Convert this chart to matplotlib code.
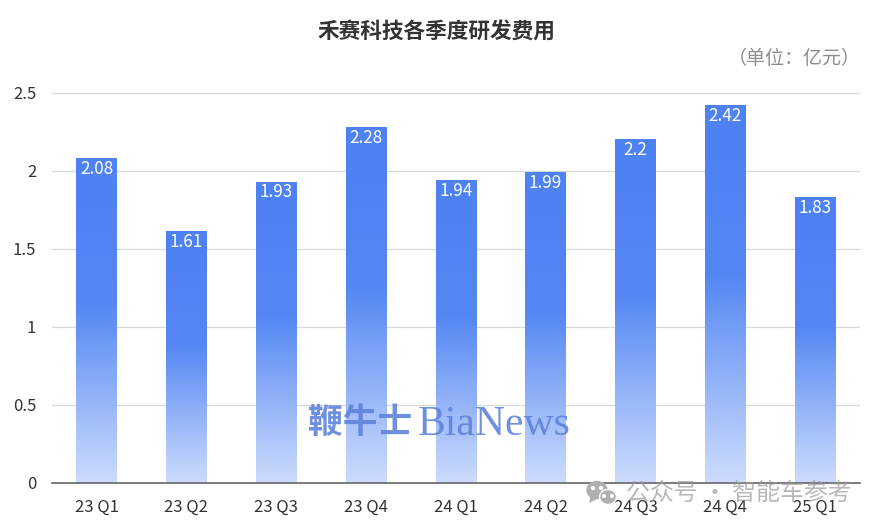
import matplotlib
matplotlib.use('Agg')
import matplotlib.pyplot as plt
import numpy as np
from matplotlib.colors import LinearSegmentedColormap
from matplotlib.patches import Ellipse, Polygon

plt.rcParams['font.family'] = ['Noto Sans CJK SC', 'DejaVu Sans']

quarters = ['23 Q1', '23 Q2', '23 Q3', '23 Q4', '24 Q1', '24 Q2', '24 Q3', '24 Q4', '25 Q1']
costs = [2.08, 1.61, 1.93, 2.28, 1.94, 1.99, 2.2, 2.42, 1.83]
labels = ['2.08', '1.61', '1.93', '2.28', '1.94', '1.99', '2.2', '2.42', '1.83']
y_ticks = [0, 0.5, 1, 1.5, 2, 2.5]
y_labels = ['0', '0.5', '1', '1.5', '2', '2.5']

W, H = 877, 528
fig = plt.figure(figsize=(W / 100, H / 100), dpi=100, facecolor='white')
ax = fig.add_axes([51.6 / W, 1 - 482.6 / H, 808.4 / W, 390 / H])

# top stays saturated for about half the bar, then fades out
cmap = LinearSegmentedColormap.from_list(
    'bar', [(0, '#4e81f1'), (0.45, '#5487f3'), (1, '#cddcfd')])
grad = np.linspace(0, 1, 256).reshape(-1, 1)

x = np.arange(len(quarters))
bars = ax.bar(x, costs, width=0.45, color='none', edgecolor='none', zorder=3)
for b, lab in zip(bars, labels):
    x0, w, h = b.get_x(), b.get_width(), b.get_height()
    im = ax.imshow(grad, cmap=cmap, aspect='auto', extent=(x0, x0 + w, 0, h),
                   zorder=3, vmin=0, vmax=1)
    im.set_clip_path(b)
    ax.text(x0 + w / 2, h - 0.012, lab, ha='center', va='top', color='white',
            fontsize=12.3, zorder=5)

ax.set_xlim(-0.5, len(quarters) - 0.5)
ax.set_ylim(0, 2.5)
ax.set_xticks(x, quarters)
ax.set_yticks(y_ticks, y_labels)
ax.tick_params(axis='both', length=0, labelsize=12, labelcolor='#333333')
ax.tick_params(axis='x', pad=11.5)
ax.tick_params(axis='y', pad=11)
ax.grid(axis='y', color='#d5d8dc', linewidth=0.9, zorder=0)
ax.set_axisbelow(True)
for s in ['top', 'left', 'right']:
    ax.spines[s].set_visible(False)
ax.spines['bottom'].set_color('#666666')
ax.spines['bottom'].set_linewidth(1.2)
ax.spines['bottom'].set_zorder(6)

fig.text(436 / W, 1 - 32 / H, '禾赛科技各季度研发费用', ha='center', va='center',
         fontsize=15.6, fontweight='bold', color='#333333')
fig.text(860.5 / W, 1 - 59 / H, '\uff08单位\uff1a亿元\uff09', ha='right', va='center',
         fontsize=13.7, color='#8c8c8c')

# watermarks
fig.text(308 / W, 1 - 423 / H, '鞭牛士', ha='left', va='center', fontsize=25,
         fontweight='bold', color='#5f83dc', alpha=0.9, zorder=10)
fig.text(418 / W, 1 - 425 / H, 'BiaNews', ha='left', va='center', fontsize=30,
         family='Liberation Serif', color='#5f83dc', alpha=0.9, zorder=10)
fig.text(626 / W, 1 - 493 / H, '公众号 · 智能车参考', ha='left', va='center',
         fontsize=17.2, color='#9a9a9a', alpha=0.7, zorder=10)

overlay = fig.add_axes([0, 0, 1, 1], facecolor='none')
overlay.set_xlim(0, W)
overlay.set_ylim(H, 0)
overlay.axis('off')
overlay.add_patch(Ellipse((597, 490), 20, 17, color='#b0b0b0'))
overlay.add_patch(Polygon([(591, 496), (590, 502), (597, 498)], color='#b0b0b0'))
overlay.add_patch(Ellipse((608, 497), 17, 15, color='#b0b0b0', ec='white', lw=1))
for ex, ey in [(593, 488), (601, 488)]:
    overlay.add_patch(Ellipse((ex, ey), 3, 3, color='white'))
for ex, ey in [(604, 496), (612, 496)]:
    overlay.add_patch(Ellipse((ex, ey), 2.6, 2.6, color='white'))

fig.savefig('out.png', dpi=100)
